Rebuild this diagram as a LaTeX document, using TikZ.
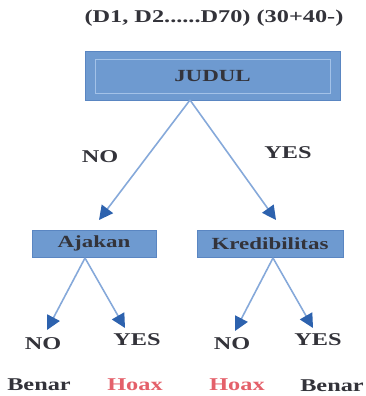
\documentclass[tikz,border=0pt]{standalone}
\usepackage{fontspec}
\setmainfont{Liberation Serif}[FakeStretch=1.35]
\usepackage{tikz}
\usetikzlibrary{arrows.meta}
\definecolor{birukotak}{HTML}{6E9AD0}
\definecolor{birutepi}{HTML}{5A86C2}
\definecolor{birumuda}{HTML}{A3C2E8}
\definecolor{birugaris}{HTML}{86A9DA}
\definecolor{birupanah}{HTML}{2D62AE}
\definecolor{teksgelap}{HTML}{33333A}
\definecolor{merahhoax}{HTML}{E4606A}
\tikzstyle{kotakbiru} = [rectangle,draw=birutepi,line width=1pt,fill=birukotak,text=teksgelap,inner sep=0pt,font=\fontsize{17}{19}\selectfont\bfseries]
\tikzstyle{labelhitam} = [text=teksgelap,inner sep=0pt,font=\fontsize{18}{20}\selectfont\bfseries]
\tikzstyle{labelmerah} = [text=merahhoax,inner sep=0pt,font=\fontsize{18}{20}\selectfont\bfseries]
\tikzstyle{panah} = [draw=birugaris,line width=1.6pt,-{Triangle[length=14pt,width=14pt,fill=birupanah,color=birupanah]}]

\begin{document}
\begin{tikzpicture}[x=1pt,y=-1pt]
\useasboundingbox (0,0) rectangle (366,396);

% kepala pohon
\node (judul) [kotakbiru,minimum width=255pt,minimum height=48pt] at (212.5,76) {JUDUL};
\node (dalam) [draw=birumuda,line width=1pt,minimum width=235pt,minimum height=33pt,inner sep=0pt] at (212.5,76.5) {};
\node (data) [labelhitam] at (214,18) {(D1, D2......D70) (30+40-)};

% cabang tingkat 1
\node (ajakan) [kotakbiru,minimum width=124pt,minimum height=27pt] at (94,243.5) {Ajakan};
\node (kred) [kotakbiru,minimum width=146pt,minimum height=27pt] at (270,243.5) {Kredibilitas};

\node (no1) [labelhitam] at (100,157) {NO};
\node (yes1) [labelhitam] at (288,153) {YES};

\coordinate (judulb) at (190,100);
\coordinate (ujung1) at (99,220);
\coordinate (ujung2) at (276,220);

% cabang tingkat 2
\node (noA)  [labelhitam] at (43,344) {NO};
\node (yesA) [labelhitam] at (137,340) {YES};
\node (noK)  [labelhitam] at (232,344) {NO};
\node (yesK) [labelhitam] at (318,340) {YES};

\node (benarA) [labelhitam] at (39,385) {Benar};
\node (hoaxA)  [labelmerah] at (135,385) {Hoax};
\node (hoaxK)  [labelmerah] at (237,385) {Hoax};
\node (benarK) [labelhitam] at (332,386) {Benar};

\coordinate (ajakanb) at (85,258);
\coordinate (kredb) at (273,258);
\coordinate (ujung3) at (47,330);
\coordinate (ujung4) at (125,328);
\coordinate (ujung5) at (235,331);
\coordinate (ujung6) at (313,328);

\draw[panah] (judulb) -- (ujung1);
\draw[panah] (judulb) -- (ujung2);
\draw[panah] (ajakanb) -- (ujung3);
\draw[panah] (ajakanb) -- (ujung4);
\draw[panah] (kredb) -- (ujung5);
\draw[panah] (kredb) -- (ujung6);

\end{tikzpicture}
\end{document}
